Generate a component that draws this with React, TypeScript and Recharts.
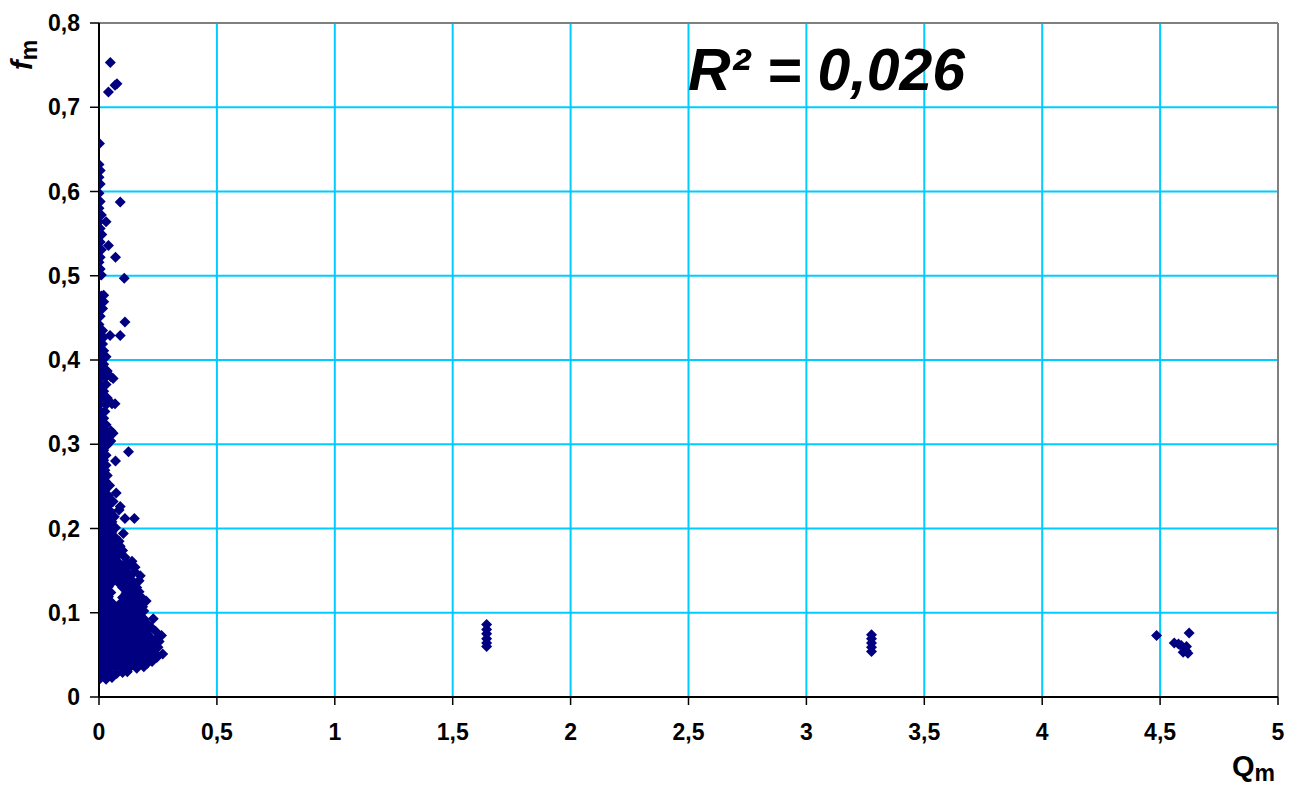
import React from 'react';
import { ScatterChart, Scatter, XAxis, YAxis, CartesianGrid, ReferenceLine } from 'recharts';

// Tick values
const xTicks = [0, 0.5, 1, 1.5, 2, 2.5, 3, 3.5, 4, 4.5, 5];
const yTicks = [0, 0.1, 0.2, 0.3, 0.4, 0.5, 0.6, 0.7, 0.8];

// [Qm, fm] — dense low-Q cloud, bottom part (fm < 0.15)
const cloudLow: [number, number][] = [
  [0.005, 0.022], [0.03, 0.021], [0.055, 0.023],
  [0.0, 0.028], [0.02, 0.027], [0.045, 0.029], [0.075, 0.028], [0.1, 0.029], [0.12, 0.03],
  [0.01, 0.034], [0.04, 0.033], [0.07, 0.035], [0.1, 0.034], [0.13, 0.035], [0.16, 0.034], [0.19, 0.036],
  [0.0, 0.04], [0.025, 0.041], [0.055, 0.04], [0.085, 0.039], [0.115, 0.041], [0.145, 0.04], [0.175, 0.041], [0.205, 0.04], [0.225, 0.042],
  [0.01, 0.046], [0.04, 0.047], [0.07, 0.045], [0.1, 0.046], [0.13, 0.047], [0.16, 0.046], [0.19, 0.045], [0.22, 0.046], [0.245, 0.047],
  [0.0, 0.052], [0.025, 0.053], [0.055, 0.052], [0.085, 0.051], [0.115, 0.052], [0.145, 0.053], [0.175, 0.052], [0.205, 0.051], [0.235, 0.053], [0.27, 0.051],
  [0.01, 0.058], [0.04, 0.059], [0.07, 0.057], [0.1, 0.058], [0.13, 0.059], [0.16, 0.058], [0.19, 0.057], [0.22, 0.058], [0.25, 0.059],
  [0.0, 0.064], [0.025, 0.065], [0.055, 0.064], [0.085, 0.063], [0.115, 0.064], [0.145, 0.065], [0.175, 0.064], [0.205, 0.063], [0.235, 0.065], [0.255, 0.066],
  [0.01, 0.07], [0.04, 0.071], [0.07, 0.069], [0.1, 0.07], [0.13, 0.071], [0.16, 0.07], [0.19, 0.069], [0.22, 0.07], [0.25, 0.071], [0.265, 0.073],
  [0.0, 0.076], [0.025, 0.077], [0.055, 0.076], [0.085, 0.075], [0.115, 0.076], [0.145, 0.077], [0.175, 0.076], [0.205, 0.075], [0.24, 0.078],
  [0.01, 0.082], [0.04, 0.083], [0.07, 0.081], [0.1, 0.082], [0.13, 0.083], [0.16, 0.082], [0.19, 0.081], [0.22, 0.083],
  [0.0, 0.088], [0.025, 0.089], [0.055, 0.088], [0.085, 0.087], [0.115, 0.088], [0.145, 0.089], [0.175, 0.088], [0.205, 0.087],
  [0.01, 0.094], [0.04, 0.095], [0.07, 0.093], [0.1, 0.094], [0.13, 0.095], [0.16, 0.094], [0.19, 0.093], [0.23, 0.093],
  [0.0, 0.1], [0.025, 0.101], [0.055, 0.1], [0.085, 0.099], [0.115, 0.1], [0.145, 0.101], [0.175, 0.1], [0.19, 0.102],
  [0.01, 0.106], [0.04, 0.107], [0.07, 0.105], [0.1, 0.106], [0.13, 0.107], [0.16, 0.106], [0.185, 0.107],
  [0.0, 0.112], [0.025, 0.113], [0.055, 0.112], [0.09, 0.111], [0.115, 0.112], [0.145, 0.113], [0.175, 0.112], [0.2, 0.114],
  [0.01, 0.118], [0.04, 0.119], [0.1, 0.118], [0.13, 0.119], [0.16, 0.118], [0.185, 0.117],
  [0.0, 0.124], [0.025, 0.125], [0.05, 0.124], [0.115, 0.123], [0.145, 0.124], [0.17, 0.125],
  [0.01, 0.13], [0.04, 0.131], [0.1, 0.13], [0.13, 0.131], [0.16, 0.13],
  [0.0, 0.136], [0.025, 0.137], [0.055, 0.136], [0.085, 0.135], [0.115, 0.136], [0.145, 0.137], [0.17, 0.138],
  [0.01, 0.142], [0.04, 0.143], [0.07, 0.141], [0.1, 0.142], [0.13, 0.143], [0.175, 0.144],
  [0.0, 0.148], [0.025, 0.149], [0.055, 0.148], [0.085, 0.147], [0.115, 0.148], [0.15, 0.149],
];

// [Qm, fm] — cloud, middle part (0.15 ≤ fm < 0.3)
const cloudMid: [number, number][] = [
  [0.01, 0.154], [0.04, 0.155], [0.07, 0.153], [0.1, 0.154], [0.125, 0.155], [0.153, 0.154],
  [0.0, 0.16], [0.025, 0.161], [0.055, 0.16], [0.085, 0.159], [0.115, 0.16], [0.14, 0.161],
  [0.01, 0.166], [0.04, 0.167], [0.07, 0.165], [0.11, 0.166],
  [0.0, 0.172], [0.025, 0.173], [0.055, 0.172], [0.085, 0.171], [0.1, 0.174],
  [0.01, 0.178], [0.04, 0.179], [0.07, 0.177], [0.09, 0.179],
  [0.0, 0.184], [0.025, 0.185], [0.055, 0.184], [0.085, 0.185],
  [0.01, 0.19], [0.04, 0.191], [0.07, 0.189],
  [0.0, 0.196], [0.025, 0.197], [0.055, 0.196], [0.103, 0.194],
  [0.01, 0.202], [0.04, 0.203], [0.07, 0.201],
  [0.0, 0.208], [0.025, 0.209], [0.055, 0.208],
  [0.11, 0.212], [0.15, 0.212],
  [0.01, 0.214], [0.04, 0.215], [0.065, 0.214],
  [0.0, 0.22], [0.025, 0.221], [0.05, 0.22], [0.085, 0.222],
  [0.01, 0.226], [0.04, 0.227], [0.09, 0.226],
  [0.0, 0.232], [0.025, 0.233], [0.06, 0.232],
  [0.01, 0.238], [0.04, 0.239], [0.073, 0.242],
  [0.0, 0.244], [0.025, 0.245],
  [0.01, 0.25], [0.045, 0.251],
  [0.0, 0.256], [0.025, 0.257],
  [0.01, 0.262], [0.035, 0.263],
  [0.0, 0.268], [0.025, 0.269],
  [0.01, 0.274], [0.03, 0.275],
  [0.0, 0.28], [0.02, 0.281], [0.07, 0.28],
  [0.01, 0.286], [0.03, 0.287],
  [0.125, 0.291], [0.0, 0.292], [0.02, 0.293],
  [0.01, 0.298], [0.035, 0.299],
];

// [Qm, fm] — narrow column near Qm = 0 (fm ≥ 0.3)
const column: [number, number][] = [
  [0.0, 0.304], [0.025, 0.305], [0.05, 0.304],
  [0.01, 0.31], [0.04, 0.311], [0.06, 0.313],
  [0.0, 0.316], [0.025, 0.317], [0.05, 0.316],
  [0.01, 0.322], [0.03, 0.323],
  [0.0, 0.33], [0.02, 0.331],
  [0.01, 0.338], [0.025, 0.339],
  [0.0, 0.346], [0.03, 0.347], [0.055, 0.348], [0.068, 0.348],
  [0.01, 0.354], [0.035, 0.355],
  [0.0, 0.362], [0.02, 0.363],
  [0.01, 0.37], [0.03, 0.371],
  [0.0, 0.378], [0.025, 0.379], [0.05, 0.38], [0.06, 0.378],
  [0.01, 0.386], [0.035, 0.387],
  [0.0, 0.394], [0.02, 0.395],
  [0.01, 0.402], [0.03, 0.404],
  [0.0, 0.41], [0.02, 0.411],
  [0.005, 0.418], [0.015, 0.419],
  [0.0, 0.426], [0.02, 0.427], [0.047, 0.429], [0.09, 0.429],
  [0.005, 0.434], [0.015, 0.435],
  [0.0, 0.442], [0.11, 0.445],
  [0.005, 0.452], [0.0, 0.46], [0.015, 0.461],
  [0.005, 0.468], [0.02, 0.469], [0.01, 0.476], [0.02, 0.477],
  [0.107, 0.497], [0.0, 0.5], [0.01, 0.501],
  [0.005, 0.508], [0.0, 0.516], [0.07, 0.522], [0.005, 0.522],
  [0.0, 0.53], [0.01, 0.531], [0.04, 0.536], [0.005, 0.54],
  [0.0, 0.548], [0.012, 0.549], [0.005, 0.556],
  [0.03, 0.564], [0.0, 0.564], [0.01, 0.572], [0.0, 0.58],
  [0.09, 0.5875], [0.005, 0.588], [0.0, 0.598],
  [0.005, 0.609], [0.0, 0.617], [0.005, 0.625], [0.0, 0.632],
  [0.002, 0.657],
];

// [Qm, fm] — top outliers
const topOutliers: [number, number][] = [
  [0.048, 0.753], [0.068, 0.726], [0.076, 0.728], [0.04, 0.718],
];

// [Qm, fm] — isolated groups
const groupA: [number, number][] = [
  [1.644, 0.086], [1.644, 0.08], [1.644, 0.075], [1.644, 0.069], [1.644, 0.064], [1.644, 0.06],
];
const groupB: [number, number][] = [
  [3.276, 0.074], [3.276, 0.069], [3.276, 0.064], [3.276, 0.059], [3.276, 0.054],
];
const groupC: [number, number][] = [
  [4.485, 0.073], [4.623, 0.076], [4.56, 0.064], [4.578, 0.063], [4.59, 0.061],
  [4.6, 0.058], [4.61, 0.055], [4.618, 0.052], [4.612, 0.06], [4.598, 0.053],
];

const allPoints = [...cloudLow, ...cloudMid, ...column, ...topOutliers, ...groupA, ...groupB, ...groupC].map(
  ([q, f]) => ({ q, f })
);

const fmt = (v: number) => String(v).replace('.', ',');
const NAVY = '#000080';
const FONT = '"Liberation Sans", Arial, sans-serif';

const Diamond = (props: any) => {
  const { cx, cy } = props;
  const r = 5.5;
  return <path d={`M${cx},${cy - r}L${cx + r},${cy}L${cx},${cy + r}L${cx - r},${cy}Z`} fill={NAVY} />;
};

export default function App() {
  const tickStyle = { fontFamily: FONT, fontWeight: 700, fontSize: 23, fill: '#000' };
  return (
    <div style={{ position: 'absolute', left: 0, top: 0, width: 1303, height: 789, background: '#fff' }}>
      <ScatterChart width={1303} height={789} margin={{ top: 23, right: 25, bottom: 32, left: 0 }}>
        <CartesianGrid stroke="#00CCFF" strokeWidth={2} />
        <XAxis
          type="number"
          dataKey="q"
          domain={[0, 5]}
          ticks={xTicks}
          tickFormatter={fmt}
          height={60}
          tickSize={8}
          tickMargin={19}
          axisLine={{ stroke: '#000', strokeWidth: 2 }}
          tickLine={{ stroke: '#000', strokeWidth: 1.5 }}
          tick={tickStyle}
          allowDataOverflow
        />
        <YAxis
          type="number"
          dataKey="f"
          domain={[0, 0.8]}
          ticks={yTicks}
          tickFormatter={fmt}
          width={99}
          tickSize={9}
          tickMargin={10}
          axisLine={{ stroke: '#000', strokeWidth: 2 }}
          tickLine={{ stroke: '#000', strokeWidth: 1.5 }}
          tick={tickStyle}
          allowDataOverflow
        />
        <ReferenceLine y={0.8} stroke="#808080" strokeWidth={2} />
        <ReferenceLine x={5} stroke="#808080" strokeWidth={2} />
        <Scatter data={allPoints} shape={Diamond} isAnimationActive={false} />
      </ScatterChart>
      <div
        style={{
          position: 'absolute', left: 688, top: 41, fontFamily: FONT, fontWeight: 700, fontStyle: 'italic',
          fontSize: 59, lineHeight: 1, whiteSpace: 'nowrap', color: '#000',
        }}
      >
        R² = 0,026
      </div>
      <div
        style={{
          position: 'absolute', left: 1232, top: 752, fontFamily: FONT, fontWeight: 700,
          fontSize: 29, lineHeight: 1, whiteSpace: 'nowrap', color: '#000',
        }}
      >
        Q<span style={{ fontSize: 23, position: 'relative', top: 5 }}>m</span>
      </div>
      <div
        style={{
          position: 'absolute', left: 8, top: 70, fontFamily: FONT, fontWeight: 700,
          fontSize: 29, lineHeight: 1, whiteSpace: 'nowrap', color: '#000',
          transform: 'rotate(-90deg)', transformOrigin: '0 0',
        }}
      >
        <span style={{ fontStyle: 'italic' }}>f</span>
        <span style={{ fontSize: 23, position: 'relative', top: 5 }}>m</span>
      </div>
    </div>
  );
}
